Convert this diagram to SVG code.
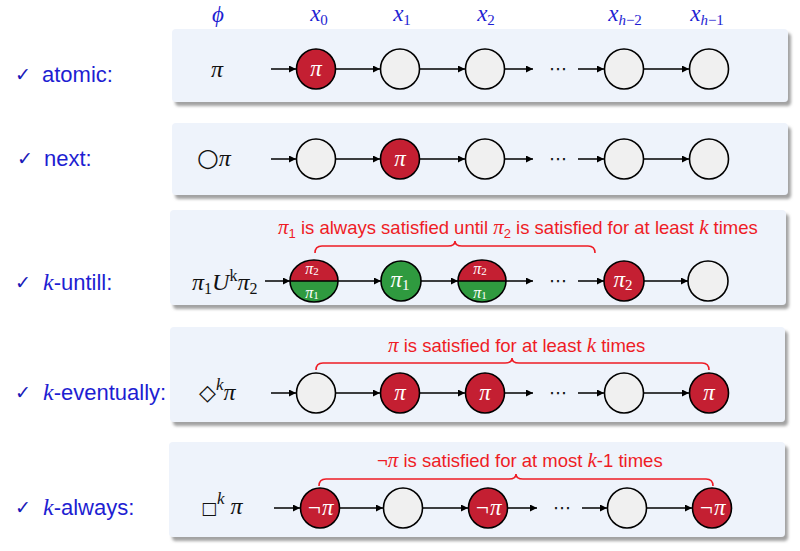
<svg xmlns="http://www.w3.org/2000/svg" width="800" height="551" viewBox="0 0 800 551">
<defs>
  <filter id="sh" x="-5%" y="-20%" width="112%" height="150%">
    <feDropShadow dx="3" dy="4" stdDeviation="1.8" flood-color="#7a7a7a" flood-opacity="0.7"/>
  </filter>
  <marker id="ah" viewBox="0 0 10 10" refX="10" refY="5" markerWidth="8" markerHeight="7" markerUnits="userSpaceOnUse" orient="auto">
    <path d="M0,0 L10,5 L0,10 z" fill="#000"/>
  </marker>
  <style>
    .panel{fill:#eef3fb;filter:url(#sh)}
    .lbl{font-family:"Liberation Sans",Arial,sans-serif;font-size:22px;fill:#1e1ed2}
    .chk{font-family:"DejaVu Sans",sans-serif;font-size:19px;font-weight:bold;fill:#1a1ab8}
    .mi{font-family:"Liberation Serif","DejaVu Serif",serif;font-style:italic}
    .hdr{font-family:"Liberation Serif","DejaVu Serif",serif;font-style:italic;font-size:23px;fill:#1e1ed2;text-anchor:middle}
    .frm{font-family:"Liberation Serif","DejaVu Serif",serif;font-size:24px;fill:#111}
    .w{fill:#f0f0f0;stroke:#000;stroke-width:1.6}
    .r{fill:#c41f32;stroke:#000;stroke-width:1.6}
    .g{fill:#2f9a3f}
    .rf{fill:#c41f32}
    .ol{fill:none;stroke:#000;stroke-width:1.6}
    .in{font-family:"Liberation Serif","DejaVu Serif",serif;font-style:italic;font-size:23px;fill:#fff;text-anchor:middle}
    .sp{font-family:"Liberation Serif","DejaVu Serif",serif;font-style:italic;font-size:16px;fill:#fff;text-anchor:middle}
    .ar{stroke:#000;stroke-width:1.5;fill:none;marker-end:url(#ah)}
    .dots{font-family:"DejaVu Sans",sans-serif;font-size:18px;fill:#111;text-anchor:middle}
    .note{font-family:"Liberation Sans",Arial,sans-serif;font-size:18.5px;fill:#ee1c25}
    .brace{fill:none;stroke:#ee1c25;stroke-width:1.6}
    .sb{font-size:11px;font-style:normal}
  </style>
</defs>
<rect width="800" height="551" fill="#ffffff"/>

<g id="headers">
  <text class="hdr" x="218" y="22">ϕ</text>
  <text class="hdr" x="319" y="21">x<tspan font-size="15" dy="4" font-style="normal">0</tspan></text>
  <text class="hdr" x="402" y="21">x<tspan font-size="15" dy="4" font-style="normal">1</tspan></text>
  <text class="hdr" x="486" y="21">x<tspan font-size="15" dy="4" font-style="normal">2</tspan></text>
  <text class="hdr" x="625" y="21">x<tspan font-size="15" dy="4">h<tspan font-style="normal">−2</tspan></tspan></text>
  <text class="hdr" x="707" y="21">x<tspan font-size="15" dy="4">h<tspan font-style="normal">−1</tspan></tspan></text>
</g>

<g id="labels">
  <text class="chk" x="15" y="81">✓</text><text class="lbl" x="42" y="82">atomic:</text>
  <text class="chk" x="17" y="165">✓</text><text class="lbl" x="44" y="166">next:</text>
  <text class="chk" x="15" y="289">✓</text><text class="lbl" x="43" y="290"><tspan class="mi" font-size="24">k</tspan>-untill:</text>
  <text class="chk" x="15" y="399">✓</text><text class="lbl" x="43" y="400"><tspan class="mi" font-size="24">k</tspan>-eventually:</text>
  <text class="chk" x="15" y="514">✓</text><text class="lbl" x="43" y="515"><tspan class="mi" font-size="24">k</tspan>-always:</text>
</g>

<g id="panels">
  <rect id="panel-atomic" class="panel" x="172" y="29" width="616" height="73" rx="4"/>
  <rect id="panel-next" class="panel" x="172" y="123" width="616" height="72" rx="4"/>
  <rect id="panel-until" class="panel" x="170" y="210" width="616" height="95" rx="4"/>
  <rect id="panel-eventually" class="panel" x="170" y="327" width="615" height="95" rx="4"/>
  <rect id="panel-always" class="panel" x="169" y="442" width="616" height="95" rx="4"/>
</g>

<g id="formulas">
  <text class="frm mi" x="217" y="77" text-anchor="middle">π</text>
  <text class="frm" x="197" y="166"><tspan font-family="DejaVu Sans" font-style="normal" font-size="25">○</tspan><tspan class="mi">π</tspan></text>
  <text class="frm" x="192" y="290"><tspan class="mi">π</tspan><tspan font-size="16" dy="4">1</tspan><tspan class="mi" dy="-4">U</tspan><tspan font-size="16" dy="-9">k</tspan><tspan class="mi" dy="9">π</tspan><tspan font-size="16" dy="4">2</tspan></text>
  <text class="frm" x="199" y="400"><tspan font-family="DejaVu Sans" font-size="22">◇</tspan><tspan class="mi" font-size="17" dy="-10">k</tspan><tspan class="mi" dy="10">π</tspan></text>
  <text class="frm" x="201" y="514"><tspan font-family="DejaVu Sans" font-size="17">□</tspan><tspan class="mi" font-size="17" dy="-10">k</tspan><tspan class="mi" dy="10" dx="6">π</tspan></text>
</g>

<g id="notes">
  <text class="note" x="278" y="234"><tspan class="mi" font-size="21">π</tspan><tspan font-size="13" dy="4">1</tspan><tspan dy="-4"> is always satisfied until </tspan><tspan class="mi" font-size="21">π</tspan><tspan font-size="13" dy="4">2</tspan><tspan dy="-4"> is satisfied for at least </tspan><tspan class="mi" font-size="21">k</tspan> times</text>
  <path class="brace" d="M315,253 Q315,246 322,246 L448,246 Q455,246 455,241 Q455,246 462,246 L588,246 Q595,246 595,253"/>
  <text class="note" x="388" y="352"><tspan class="mi" font-size="21">π</tspan> is satisfied for at least <tspan class="mi" font-size="21">k</tspan> times</text>
  <path class="brace" d="M316,370 Q316,363 323,363 L505,363 Q512,363 512,358 Q512,363 519,363 L702,363 Q709,363 709,370"/>
  <text class="note" x="377" y="467">¬<tspan class="mi" font-size="21">π</tspan> is satisfied for at most <tspan class="mi" font-size="21">k</tspan>-1 times</text>
  <path class="brace" d="M319,486 Q319,479 326,479 L509,479 Q516,479 516,474 Q516,479 523,479 L706,479 Q713,479 713,486"/>
</g>

<g id="connectors">
  <line class="ar" x1="271" y1="69" x2="296" y2="69"/>
  <line class="ar" x1="336" y1="69" x2="380" y2="69"/>
  <line class="ar" x1="420" y1="69" x2="465" y2="69"/>
  <line class="ar" x1="505" y1="69" x2="533" y2="69"/>
  <line class="ar" x1="578" y1="69" x2="604" y2="69"/>
  <line class="ar" x1="644" y1="69" x2="689" y2="69"/>
  <line class="ar" x1="271" y1="159" x2="296" y2="159"/>
  <line class="ar" x1="336" y1="159" x2="380" y2="159"/>
  <line class="ar" x1="420" y1="159" x2="465" y2="159"/>
  <line class="ar" x1="505" y1="159" x2="533" y2="159"/>
  <line class="ar" x1="578" y1="159" x2="604" y2="159"/>
  <line class="ar" x1="644" y1="159" x2="689" y2="159"/>
  <line class="ar" x1="265" y1="281" x2="290" y2="281"/>
  <line class="ar" x1="338" y1="281" x2="381" y2="281"/>
  <line class="ar" x1="421" y1="281" x2="458" y2="281"/>
  <line class="ar" x1="506" y1="281" x2="533" y2="281"/>
  <line class="ar" x1="578" y1="281" x2="604" y2="281"/>
  <line class="ar" x1="644" y1="281" x2="688" y2="281"/>
  <line class="ar" x1="271" y1="393" x2="296" y2="393"/>
  <line class="ar" x1="336" y1="393" x2="380" y2="393"/>
  <line class="ar" x1="420" y1="393" x2="465" y2="393"/>
  <line class="ar" x1="505" y1="393" x2="533" y2="393"/>
  <line class="ar" x1="578" y1="393" x2="604" y2="393"/>
  <line class="ar" x1="644" y1="393" x2="689" y2="393"/>
  <line class="ar" x1="274" y1="508" x2="300" y2="508"/>
  <line class="ar" x1="340" y1="508" x2="383" y2="508"/>
  <line class="ar" x1="423" y1="508" x2="468" y2="508"/>
  <line class="ar" x1="508" y1="508" x2="537" y2="508"/>
  <line class="ar" x1="582" y1="508" x2="607" y2="508"/>
  <line class="ar" x1="647" y1="508" x2="692" y2="508"/>
</g>

<g id="dots">
  <text class="dots" x="558" y="75">⋯</text>
  <text class="dots" x="558" y="165">⋯</text>
  <text class="dots" x="558" y="287">⋯</text>
  <text class="dots" x="558" y="399">⋯</text>
  <text class="dots" x="562" y="514">⋯</text>
</g>

<g id="r1n0"><ellipse class="r" cx="316" cy="69" rx="19.5" ry="20"/><text class="in" x="316" y="76">π</text></g>
<g id="r1n1"><ellipse class="w" cx="400" cy="69" rx="19.5" ry="20"/></g>
<g id="r1n2"><ellipse class="w" cx="485" cy="69" rx="19.5" ry="20"/></g>
<g id="r1n3"><ellipse class="w" cx="624" cy="69" rx="19.5" ry="20"/></g>
<g id="r1n4"><ellipse class="w" cx="709" cy="69" rx="19.5" ry="20"/></g>

<g id="r2n0"><ellipse class="w" cx="316" cy="159" rx="19.5" ry="20"/></g>
<g id="r2n1"><ellipse class="r" cx="400" cy="159" rx="19.5" ry="20"/><text class="in" x="400" y="166">π</text></g>
<g id="r2n2"><ellipse class="w" cx="485" cy="159" rx="19.5" ry="20"/></g>
<g id="r2n3"><ellipse class="w" cx="624" cy="159" rx="19.5" ry="20"/></g>
<g id="r2n4"><ellipse class="w" cx="709" cy="159" rx="19.5" ry="20"/></g>

<g id="r3n0">
  <path class="rf" d="M290,281 A24,21 0 0 1 338,281 Z"/>
  <path class="g" d="M290,281 A24,21 0 0 0 338,281 Z"/>
  <ellipse class="ol" cx="314" cy="281" rx="24" ry="21"/>
  <line x1="290" y1="281" x2="338" y2="281" stroke="#000" stroke-width="1.5"/>
  <text class="sp" x="312" y="274">π<tspan class="sb" dy="1">2</tspan></text>
  <text class="sp" x="312" y="298">π<tspan class="sb" dy="1">1</tspan></text>
</g>
<g id="r3n1"><ellipse cx="401" cy="281" rx="20" ry="20" fill="#2f9a3f" stroke="#000" stroke-width="1.6"/><text class="in" x="400" y="287">π<tspan font-size="15" dy="3" font-style="normal">1</tspan></text></g>
<g id="r3n2">
  <path class="rf" d="M458,281 A24,21 0 0 1 506,281 Z"/>
  <path class="g" d="M458,281 A24,21 0 0 0 506,281 Z"/>
  <ellipse class="ol" cx="482" cy="281" rx="24" ry="21"/>
  <line x1="458" y1="281" x2="506" y2="281" stroke="#000" stroke-width="1.5"/>
  <text class="sp" x="480" y="274">π<tspan class="sb" dy="1">2</tspan></text>
  <text class="sp" x="480" y="298">π<tspan class="sb" dy="1">1</tspan></text>
</g>
<g id="r3n3"><ellipse class="r" cx="624" cy="281" rx="20" ry="20"/><text class="in" x="623" y="287">π<tspan font-size="15" dy="3" font-style="normal">2</tspan></text></g>
<g id="r3n4"><ellipse class="w" cx="708" cy="281" rx="20" ry="20"/></g>

<g id="r4n0"><ellipse class="w" cx="316" cy="393" rx="19.5" ry="20"/></g>
<g id="r4n1"><ellipse class="r" cx="400" cy="393" rx="19.5" ry="20"/><text class="in" x="400" y="400">π</text></g>
<g id="r4n2"><ellipse class="r" cx="485" cy="393" rx="19.5" ry="20"/><text class="in" x="485" y="400">π</text></g>
<g id="r4n3"><ellipse class="w" cx="624" cy="393" rx="19.5" ry="20"/></g>
<g id="r4n4"><ellipse class="r" cx="709" cy="393" rx="19.5" ry="20"/><text class="in" x="709" y="400">π</text></g>

<g id="r5n0"><ellipse class="r" cx="320" cy="508" rx="19.5" ry="20"/><text class="in" x="320" y="515">¬π</text></g>
<g id="r5n1"><ellipse class="w" cx="403" cy="508" rx="19.5" ry="20"/></g>
<g id="r5n2"><ellipse class="r" cx="488" cy="508" rx="19.5" ry="20"/><text class="in" x="488" y="515">¬π</text></g>
<g id="r5n3"><ellipse class="w" cx="627" cy="508" rx="19.5" ry="20"/></g>
<g id="r5n4"><ellipse class="r" cx="712" cy="508" rx="19.5" ry="20"/><text class="in" x="712" y="515">¬π</text></g>
</svg>
